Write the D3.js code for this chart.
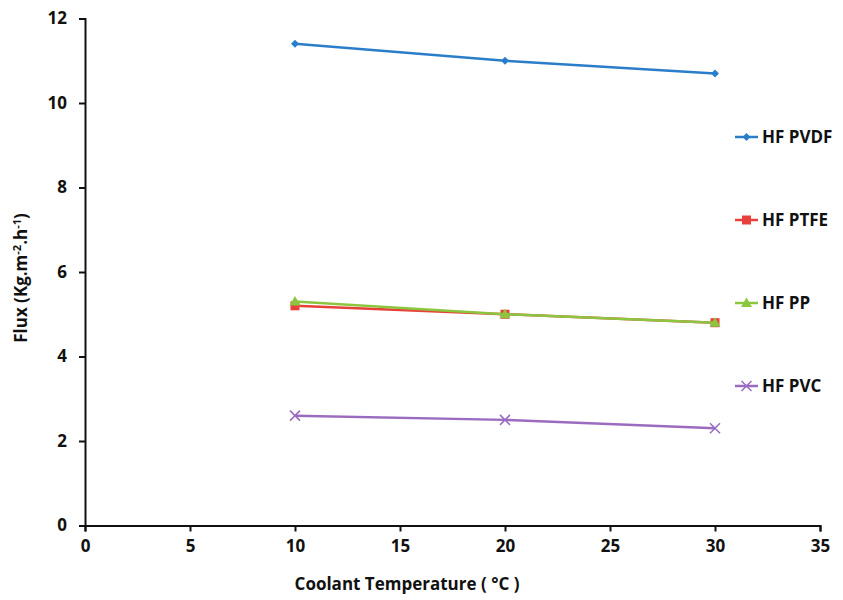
<!DOCTYPE html>
<html><head><meta charset="utf-8">
<script src="https://cdn.jsdelivr.net/npm/d3@7"></script>
<style>body{margin:0;background:#fff}text{font-family:"Open Sans",sans-serif;font-weight:bold}</style>
</head><body><svg id="c" width="843" height="600"></svg>
<script>
const temps = [10, 20, 30];
const seriesNames = ["HF PVDF", "HF PTFE", "HF PP", "HF PVC"];
const pvdf = [11.4, 11.0, 10.7];
const ptfe = [5.2, 5.0, 4.8];
const pp = [5.3, 5.0, 4.8];
const pvc = [2.6, 2.5, 2.3];
const xTicks = [0, 5, 10, 15, 20, 25, 30, 35];
const yTicks = [0, 2, 4, 6, 8, 10, 12];
const colors = ["#2a7dc9", "#e8403a", "#8cc63f", "#9a6bbf"];
const symbols = ["diamond", "square", "triangle", "cross"];
const data = [pvdf, ptfe, pp, pvc];

const svg = d3.select("#c");
const x = d3.scaleLinear().domain([0, 35]).range([85, 820]);
const y = d3.scaleLinear().domain([0, 12]).range([525.5, 18.5]);

const xa = svg.append("g").attr("transform", "translate(0,525.5)")
  .call(d3.axisBottom(x).tickValues(xTicks).tickSize(6).tickPadding(8));
const ya = svg.append("g").attr("transform", "translate(85,0)")
  .call(d3.axisLeft(y).tickValues(yTicks).tickSize(6).tickPadding(12));
[xa, ya].forEach(a => {
  a.select(".domain").attr("stroke", "#111").attr("stroke-width", 2);
  a.selectAll(".tick line").attr("stroke", "#111").attr("stroke-width", 2);
  a.selectAll("text").attr("font-size", 17).attr("fill", "#111");
});

svg.append("text").attr("x", 407).attr("y", 590).attr("text-anchor", "middle")
  .attr("font-size", 17).attr("fill", "#111").text("Coolant Temperature ( °C )");
const yl = svg.append("text").attr("transform", "translate(27,278) rotate(-90)")
  .attr("text-anchor", "middle").attr("font-size", 17).attr("fill", "#111");
yl.append("tspan").text("Flux (Kg.m");
yl.append("tspan").attr("dy", -6).attr("font-size", 11).text("-2");
yl.append("tspan").attr("dy", 6).text(".h");
yl.append("tspan").attr("dy", -6).attr("font-size", 11).text("-1");
yl.append("tspan").attr("dy", 6).text(")");

const line = d3.line().x((d, i) => x(temps[i])).y(d => y(d));

function drawMarker(g, kind, cx, cy, color) {
  if (kind === "diamond") {
    g.append("path").attr("d", `M${cx},${cy-4}L${cx+4},${cy}L${cx},${cy+4}L${cx-4},${cy}Z`).attr("fill", color);
  } else if (kind === "square") {
    g.append("rect").attr("x", cx-4.5).attr("y", cy-4.5).attr("width", 9).attr("height", 9).attr("fill", color);
  } else if (kind === "triangle") {
    g.append("path").attr("d", `M${cx},${cy-5.5}L${cx+5.5},${cy+4}L${cx-5.5},${cy+4}Z`).attr("fill", color);
  } else {
    g.append("path").attr("d", `M${cx-5},${cy-5}L${cx+5},${cy+5}M${cx-5},${cy+5}L${cx+5},${cy-5}`)
      .attr("stroke", color).attr("stroke-width", 1.5);
  }
}

const legendY = [137, 220, 303, 386];
data.forEach((vals, k) => {
  const g = svg.append("g");
  g.append("path").datum(vals).attr("d", line).attr("fill", "none")
    .attr("stroke", colors[k]).attr("stroke-width", 2.5);
  vals.forEach((v, i) => drawMarker(g, symbols[k], x(temps[i]), y(v), colors[k]));
  const lg = svg.append("g");
  lg.append("line").attr("x1", 735).attr("x2", 758).attr("y1", legendY[k]).attr("y2", legendY[k])
    .attr("stroke", colors[k]).attr("stroke-width", 2.5);
  drawMarker(lg, symbols[k], 746.5, legendY[k], colors[k]);
  lg.append("text").attr("x", 762).attr("y", legendY[k] + 6).attr("font-size", 17)
    .attr("fill", "#111").text(seriesNames[k]);
});
</script></body></html>
